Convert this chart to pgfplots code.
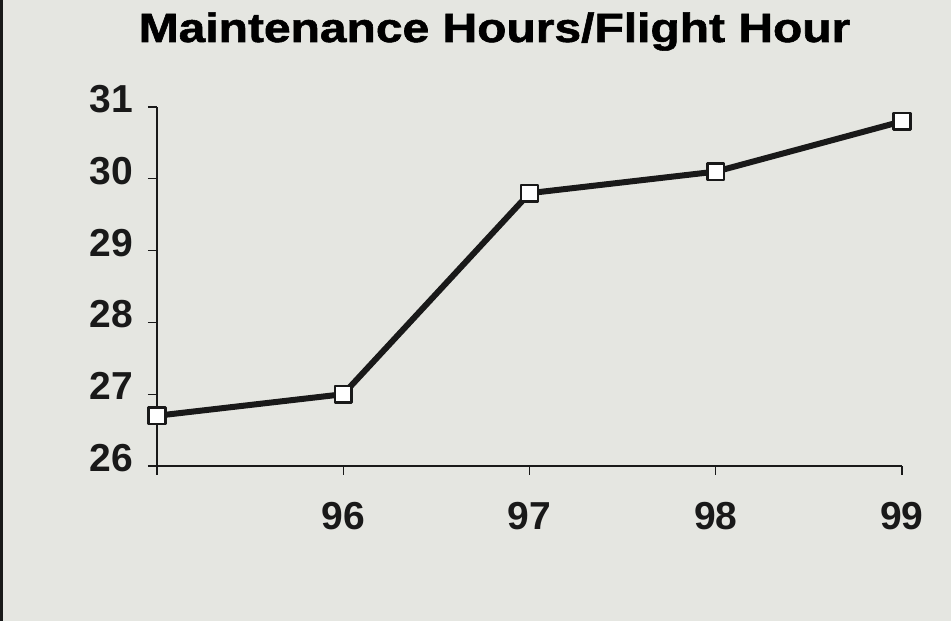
\documentclass[border=0pt]{standalone}
\usepackage{pgfplots}
\pgfplotsset{compat=1.18}
\usepackage{fontspec}
\setmainfont{Liberation Sans}
\newfontfamily\titlefont{Liberation Sans}[BoldFeatures={FakeBold=1.3}]
\usepackage{graphicx}
\definecolor{bg}{RGB}{229,230,225}
\definecolor{ink}{RGB}{25,25,25}

\begin{document}
\begin{tikzpicture}[x=1pt,y=1pt]
\fill[bg] (0,0) rectangle (951,621);
\useasboundingbox (0,0) rectangle (951,621);
\draw[ink, line width=2.5pt] (1.5,0) -- (1.5,621);
\node[anchor=base, inner sep=0pt, font=\titlefont\fontsize{41}{48}\selectfont\bfseries] at (494.5,579) {\scalebox{1.17}[1]{Maintenance Hours/Flight Hour}};
\begin{axis}[
 at={(157pt,155pt)}, anchor=south west, scale only axis,
 width=745pt, height=359pt,
 xmin=95, xmax=99, ymin=26, ymax=31,
 axis lines*=left,
 axis line style={ink, line width=1.3pt},
 xtick={95,96,97,98,99}, xticklabels={,96,97,98,99},
 ytick={26,...,31},
 tick align=outside,
 major tick length=9pt,
 tick style={ink, line width=1.2pt},
 ticklabel style={font=\fontsize{39}{44}\selectfont\bfseries, text=ink, inner sep=0pt},
 /pgf/number format/assume math mode=true,
 yticklabel style={anchor=east, xshift=-15pt, yshift=8pt},
 xticklabel style={anchor=north, yshift=-27pt},
 clip=false,
]
\addplot[ink, line width=6pt, line join=round, mark=square*, mark size=8.3pt, mark options={fill=white, draw=ink, line width=2.5pt}] coordinates {(95,26.7) (96,27.0) (97,29.8) (98,30.1) (99,30.8)};
\end{axis}
\end{tikzpicture}
\end{document}
